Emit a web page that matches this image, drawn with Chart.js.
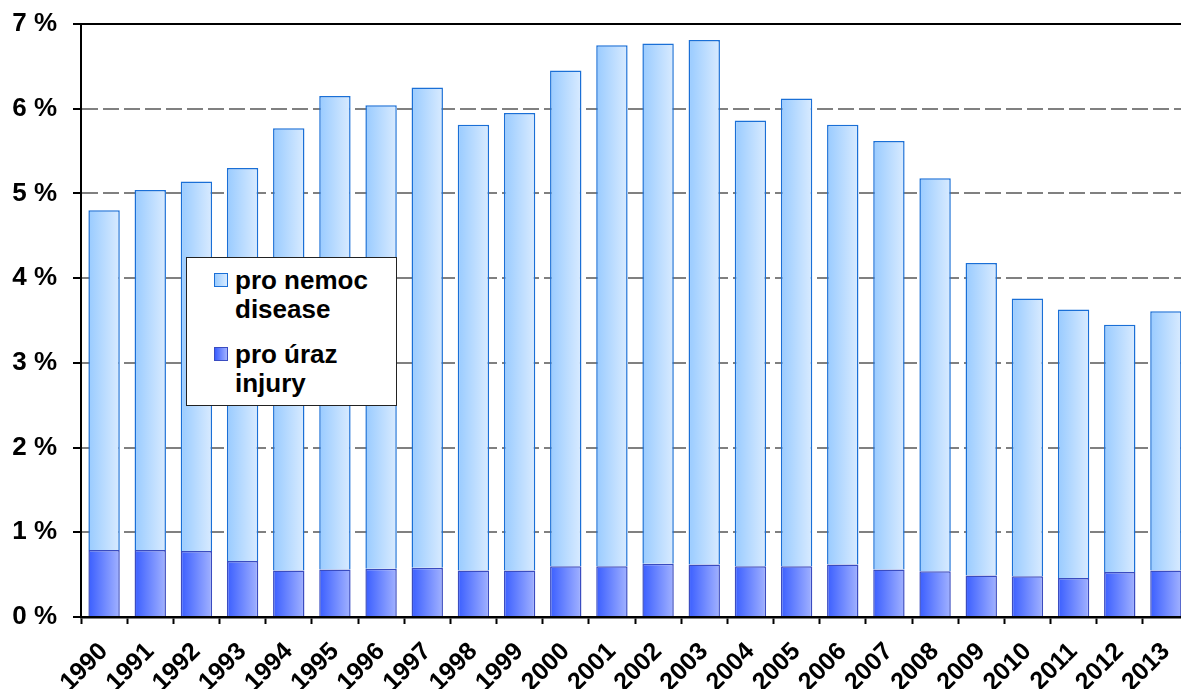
<!DOCTYPE html>
<html>
<head>
<meta charset="utf-8">
<script src="https://cdn.jsdelivr.net/npm/chart.js@4.4.1/dist/chart.umd.min.js"></script>
<style>
  html, body { margin: 0; padding: 0; background: #fff; overflow: hidden; width: 1181px; height: 689px; }
  #wrap { position: relative; width: 1189px; height: 689px; }
  #c { position: absolute; left: 0; top: 0; }
  #legend { position: absolute; left: 186px; top: 257px; width: 211px; height: 149px; box-sizing: border-box;
            border: 1.5px solid #222; background: #fff; font-family: "Liberation Sans", Arial, sans-serif;
            font-weight: bold; font-size: 26px; line-height: 29px; color: #000; }
  .mk { position: absolute; width: 14px; height: 14px; box-sizing: border-box; }
  .tx { position: absolute; white-space: nowrap; }
</style>
</head>
<body>
<div id="wrap">
  <canvas id="c" width="1189" height="689"></canvas>
  <div id="legend"></div>
</div>
<script>
const years = ['1990','1991','1992','1993','1994','1995','1996','1997','1998','1999','2000','2001',
               '2002','2003','2004','2005','2006','2007','2008','2009','2010','2011','2012','2013'];
const injury  = [0.79,0.79,0.78,0.66,0.55,0.56,0.57,0.58,0.55,0.55,0.60,0.60,
                 0.63,0.62,0.60,0.60,0.62,0.56,0.54,0.49,0.48,0.46,0.53,0.55];
const disease = [4.01,4.25,4.36,4.64,5.22,5.59,5.47,5.67,5.26,5.40,5.85,6.15,
                 6.14,6.19,5.26,5.52,5.19,5.06,4.64,3.69,3.28,3.17,2.92,3.06];
const diseaseLabel = ['pro nemoc', 'disease'];
const injuryLabel  = ['pro úraz', 'injury'];
const yTicks = [0,1,2,3,4,5,6,7];

const BAR_PCT = 0.68;
const diseaseStops = ['#99cbff', '#d9ebff'];
const injuryStops  = ['#3a5eff', '#a2b2ff'];

function gradFill(stops) {
  return function(ctx) {
    const chart = ctx.chart;
    const xs = chart.scales && chart.scales.x;
    if (!xs || ctx.dataIndex === undefined) return stops[0];
    const cx = xs.getPixelForValue(ctx.dataIndex);
    const w = (xs.width / years.length) * BAR_PCT;
    if (!isFinite(cx) || !isFinite(w) || w <= 0) return stops[0];
    const g = chart.ctx.createLinearGradient(cx - w / 2, 0, cx + w / 2, 0);
    g.addColorStop(0, stops[0]);
    g.addColorStop(1, stops[1]);
    return g;
  };
}

const topLine = {
  id: 'topLine',
  afterDraw(chart) {
    const {ctx, chartArea} = chart;
    ctx.save();
    ctx.strokeStyle = '#000';
    ctx.lineWidth = 2;
    ctx.beginPath();
    ctx.moveTo(chartArea.left - 8, chartArea.top);
    ctx.lineTo(chartArea.right, chartArea.top);
    ctx.stroke();
    ctx.restore();
  }
};

const font = '"Liberation Sans", Arial, sans-serif';

const chart = new Chart(document.getElementById('c'), {
  type: 'bar',
  data: {
    labels: years,
    datasets: [
      { label: injuryLabel.join(' '), data: injury, backgroundColor: gradFill(injuryStops),
        borderColor: '#3a4cc0', borderWidth: 1.5, barPercentage: BAR_PCT, categoryPercentage: 1 },
      { label: diseaseLabel.join(' '), data: disease, backgroundColor: gradFill(diseaseStops),
        borderColor: '#1a6fd6', borderWidth: 1.5, barPercentage: BAR_PCT, categoryPercentage: 1 }
    ]
  },
  options: {
    responsive: false,
    animation: false,
    devicePixelRatio: 1,
    layout: { padding: { top: 24, left: 0, right: 0, bottom: 0 } },
    plugins: { legend: { display: false }, tooltip: { enabled: false } },
    scales: {
      x: {
        stacked: true,
        afterFit(s) { s.height = 72; s.paddingLeft = 0; s.paddingRight = 0; },
        grid: { drawOnChartArea: false, drawTicks: true, tickLength: 7, tickColor: '#000', tickWidth: 2, offset: true },
        border: { display: true, color: '#000', width: 2.5 },
        ticks: { color: '#000', font: { family: font, weight: 'bold', size: 25 }, maxRotation: 45, minRotation: 45, padding: 13, autoSkip: false }
      },
      y: {
        stacked: true,
        min: 0, max: 7,
        afterFit(s) { s.width = 81; s.paddingTop = 0; s.paddingBottom = 0; },
        afterBuildTicks(s) { s.ticks = yTicks.map(v => ({ value: v })); },
        grid: {
          color: (c) => (c.tick && c.tick.value === 7) ? 'rgba(0,0,0,0)' : '#808080',
          lineWidth: 2, tickLength: 8, tickColor: '#000', tickWidth: 2, drawTicks: true
        },
        border: { display: true, color: '#000', width: 2, dash: [16, 5] },
        ticks: { color: '#000', font: { family: font, weight: 'bold', size: 26 }, padding: 16,
                 callback: (v) => v + ' %' }
      }
    }
  },
  plugins: [topLine]
});
chart.update();

// HTML legend built from the dataset labels
const legend = document.getElementById('legend');
function addItem(lines, stops, border, mkTop, txTop) {
  const mk = document.createElement('div');
  mk.className = 'mk';
  mk.style.left = '27px'; mk.style.top = mkTop + 'px';
  mk.style.background = 'linear-gradient(to right,' + stops[0] + ',' + stops[1] + ')';
  mk.style.border = '1.5px solid ' + border;
  legend.appendChild(mk);
  const tx = document.createElement('div');
  tx.className = 'tx';
  tx.style.left = '48px'; tx.style.top = txTop + 'px';
  tx.innerHTML = lines.join('<br>');
  legend.appendChild(tx);
}
addItem(diseaseLabel, diseaseStops, '#1a6fd6', 15, 8);
addItem(injuryLabel, injuryStops, '#3a4cc0', 89, 82);
</script>
</body>
</html>
